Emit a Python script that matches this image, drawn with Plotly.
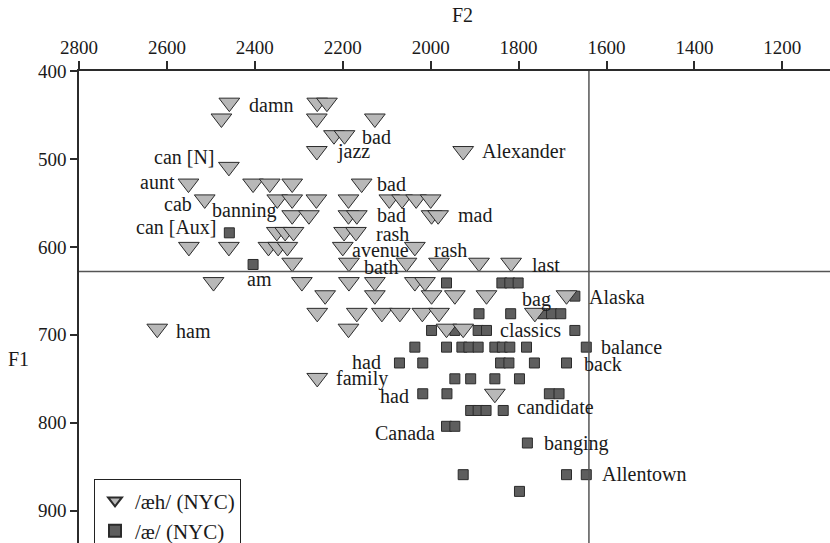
import plotly.graph_objects as go

# ---- data (F2 / F1 in Hz) ----
aeh_f2 = [2458, 2258, 2236,
          2476, 2259, 2127,
          2220, 2196,
          2259, 1926,
          2459,
          2551, 2404, 2366, 2315, 2157,
          2514, 2349, 2315, 2260, 2187, 2094, 2065, 2033, 2000,
          2315, 2277, 2187, 2168, 1998, 1983,
          2350, 2331, 2312, 2197, 2170,
          2550, 2459, 2369, 2347, 2326, 2200, 2036,
          2315, 2186, 2055, 1981, 1890, 1817,
          2494, 2293, 2186, 2127, 2036, 2013,
          2240, 2127, 1998, 1945, 1873, 1691,
          2258, 2168, 2111, 2070, 2019, 1981, 1763,
          2622, 2187, 1964, 1926,
          2258,
          1854]
aeh_f1 = [436, 436, 436,
          454, 454, 454,
          473, 473,
          491, 491,
          509,
          528, 528, 528, 528, 528,
          546, 546, 546, 546, 546, 546, 546, 546, 546,
          564, 564, 564, 564, 564, 564,
          583, 583, 583, 583, 583,
          600, 600, 600, 600, 600, 600, 600,
          618, 618, 618, 618, 618, 618,
          640, 640, 640, 640, 640, 640,
          655, 655, 655, 655, 655, 655,
          675, 675, 675, 675, 675, 675, 675,
          693, 693, 693, 693,
          749,
          767]

ae_f2 = [2458,
         2404,
         1964, 1838, 1820, 1801,
         1672,
         1890, 1818, 1744, 1725, 1704,
         1998, 1945, 1892, 1873, 1672,
         2036, 1964, 1929, 1913, 1892, 1854, 1837, 1820, 1782, 1646,
         2071, 2018, 1841, 1822, 1764, 1691,
         1945, 1909, 1854, 1798,
         2018, 1963, 1730, 1708,
         1909, 1892, 1874, 1835,
         1964, 1945,
         1780,
         1926, 1691, 1646,
         1798]
ae_f1 = [584,
         620,
         641, 641, 641, 641,
         656,
         676, 676, 676, 676, 676,
         695, 695, 695, 695, 695,
         714, 714, 714, 714, 714, 714, 714, 714, 714, 714,
         732, 732, 732, 732, 732, 732,
         750, 750, 750, 750,
         767, 767, 767, 767,
         786, 786, 786, 786,
         804, 804,
         823,
         859, 859, 859,
         878]

# word labels: text, F2, F1, side of anchor
label_text = ["damn", "bad", "jazz", "Alexander", "can [N]", "aunt", "bad", "cab",
              "banning", "bad", "mad", "can [Aux]", "rash", "avenue", "rash", "last",
              "bath", "am", "Alaska", "bag", "ham", "classics", "balance", "had",
              "back", "family", "had", "candidate", "Canada", "banging", "Allentown"]
label_f2 = [2418, 2161, 2218, 1888, 2487, 2576, 2127, 2538,
            2502, 2127, 1942, 2482, 2130, 2183, 1998, 1774,
            2157, 2390, 1645, 1797, 2585, 1846, 1616, 2108,
            1656, 2220, 2045, 1808, 1985, 1747, 1615]
label_f1 = [439, 475, 492, 491, 498, 526, 529, 551,
            559, 564, 564, 577, 585, 604, 603, 621,
            623, 636, 657, 660, 696, 695, 714, 731,
            733, 750, 770, 782, 812, 823, 858]
label_anchor = ["left", "left", "left", "left", "right", "right", "left", "right",
                "left", "left", "left", "right", "left", "left", "left", "left",
                "left", "center", "left", "left", "left", "left", "left", "right",
                "left", "left", "right", "left", "right", "left", "left"]

x_ticks = [2800, 2600, 2400, 2200, 2000, 1800, 1600, 1400, 1200]
y_ticks = [400, 500, 600, 700, 800, 900]
ref_f2 = 1640
ref_f1 = 628

FONT = "Liberation Serif"
DARK = "#2b2b2b"
TXT = "#1a1a1a"

fig = go.Figure()
fig.add_trace(go.Scatter(
    x=ae_f2, y=ae_f1, mode="markers", name="/æ/ (NYC)", legendrank=2,
    marker=dict(symbol="square", size=10, color="#5e5e5e",
                line=dict(color=DARK, width=1))))
fig.add_trace(go.Scatter(
    x=aeh_f2, y=aeh_f1, mode="markers", name="/æh/ (NYC)", legendrank=1,
    marker=dict(symbol="triangle-down", size=18, color="#b8b8b8",
                line=dict(color=DARK, width=1))))

for t, fx, fy, a in zip(label_text, label_f2, label_f1, label_anchor):
    fig.add_annotation(x=fx, y=fy, text=t, showarrow=False, xanchor=a,
                       yanchor="middle", font=dict(family=FONT, size=20, color=TXT))

fig.add_shape(type="line", xref="x", yref="paper", x0=ref_f2, x1=ref_f2, y0=0, y1=1,
              line=dict(color="#555555", width=1.5))
fig.add_shape(type="line", xref="paper", yref="y", x0=0, x1=1, y0=ref_f1, y1=ref_f1,
              line=dict(color="#555555", width=1.5))

fig.add_annotation(xref="paper", yref="paper", x=0.51, y=1.118, text="F2", showarrow=False,
                   xanchor="center", yanchor="middle", font=dict(family=FONT, size=20, color=TXT))
fig.add_annotation(xref="paper", yref="paper", x=-0.081, y=0.39, text="F1", showarrow=False,
                   xanchor="center", yanchor="middle", font=dict(family=FONT, size=20, color=TXT))

fig.update_layout(
    width=830, height=543,
    margin=dict(l=79, r=0, t=71, b=0, autoexpand=False),
    paper_bgcolor="white", plot_bgcolor="white",
    font=dict(family=FONT, size=19, color=TXT),
    showlegend=True,
    legend=dict(x=0.02, y=0.135, xanchor="left", yanchor="top",
                bgcolor="white", bordercolor="#222222", borderwidth=1,
                font=dict(family=FONT, size=21, color=TXT),
                tracegroupgap=0, itemsizing="constant"),
    xaxis=dict(range=[2800, 1091.6], side="top", tickvals=x_ticks, automargin=False,
               showgrid=False, zeroline=False, showline=True, linecolor=DARK, linewidth=1.5,
               ticks="outside", ticklen=8, tickwidth=1.5, tickcolor=DARK,
               tickfont=dict(family=FONT, size=19, color=TXT)),
    yaxis=dict(range=[936.7, 400], tickvals=y_ticks, automargin=False,
               showgrid=False, zeroline=False, showline=True, linecolor=DARK, linewidth=1.5,
               ticks="outside", ticklen=7, tickwidth=1.5, tickcolor=DARK,
               tickfont=dict(family=FONT, size=19, color=TXT)),
)

fig.write_html("out.html", config={"displayModeBar": False},
               post_script="document.body.style.margin='0';document.body.style.overflow='hidden';")
